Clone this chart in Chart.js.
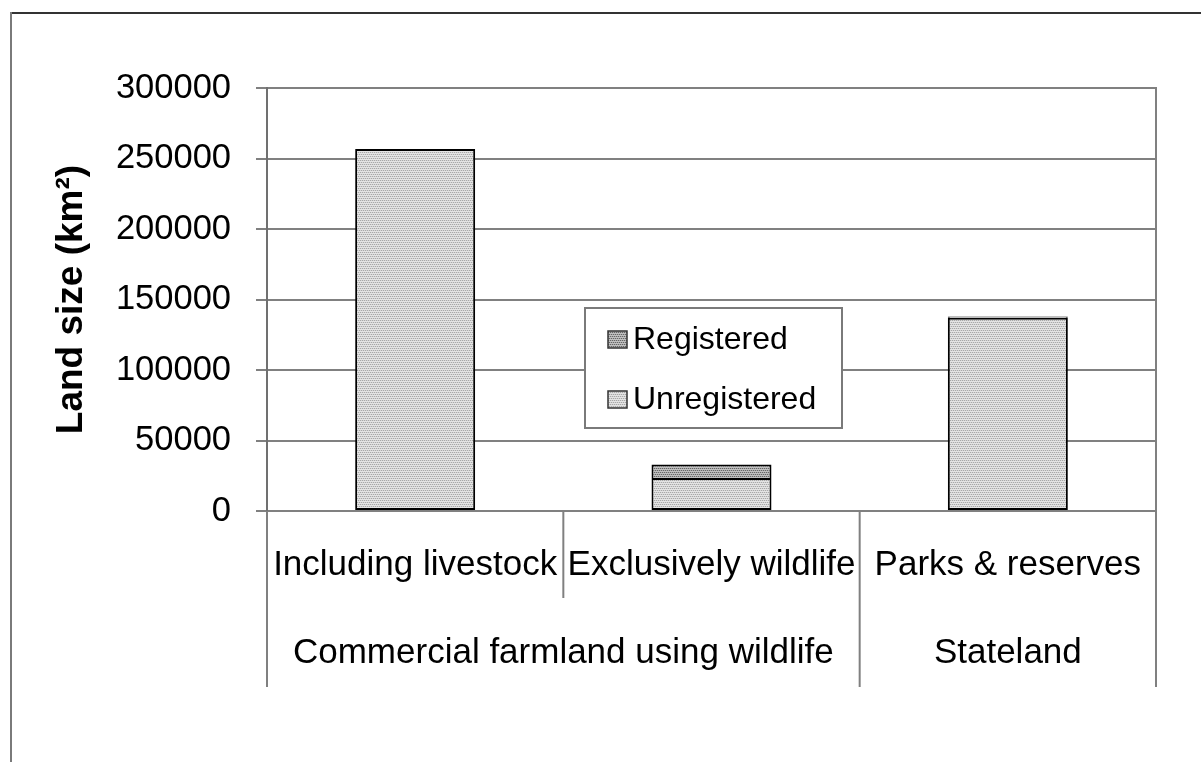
<!DOCTYPE html>
<html>
<head>
<meta charset="utf-8">
<script src="https://cdn.jsdelivr.net/npm/chart.js@4.4.1/dist/chart.umd.min.js"></script>
<style>
  html, body { margin: 0; padding: 0; background: #ffffff; }
  #wrap { width: 1201px; height: 762px; }
</style>
</head>
<body>
<div id="wrap"><canvas id="c" width="1201" height="762"></canvas></div>
<script>
// ---- data ----
const categories = ["Including livestock", "Exclusively wildlife", "Parks & reserves"];
const groupLabels = ["Commercial farmland using wildlife", "Stateland"];
const groupSpans = [2, 1];
const unregistered = [256700, 23400, 137000];
const registered = [0, 9600, 1000];
const seriesNames = ["Unregistered", "Registered"];
const yTicks = [0, 50000, 100000, 150000, 200000, 250000, 300000];

const FONT = "'Liberation Sans', Arial, Helvetica, sans-serif";

function makePattern(base, dark, light) {
  const c = document.createElement('canvas');
  c.width = 4; c.height = 4;
  const g = c.getContext('2d');
  g.fillStyle = base; g.fillRect(0, 0, 4, 4);
  g.fillStyle = dark;
  g.fillRect(0, 0, 1, 1); g.fillRect(2, 0, 1, 1);
  g.fillRect(1, 2, 1, 1); g.fillRect(3, 2, 1, 1);
  if (light) {
    g.fillStyle = light;
    g.fillRect(0, 1, 4, 1);
    g.fillRect(0, 3, 4, 1);
  }
  return g.createPattern(c, 'repeat');
}
const unregFill = makePattern('#d4d4d4', '#a8a8a8', '#e4e4e4');
const regFill = makePattern('#a8a8a8', '#666666', '#c0c0c0');

const decor = {
  id: 'decor',
  beforeDraw(chart) {
    const ctx = chart.ctx;
    ctx.save();
    ctx.lineWidth = 2;
    ctx.strokeStyle = '#333333';
    ctx.beginPath(); ctx.moveTo(10, 13); ctx.lineTo(1201, 13); ctx.stroke();
    ctx.strokeStyle = '#7a7a7a';
    ctx.beginPath(); ctx.moveTo(11, 12); ctx.lineTo(11, 762); ctx.stroke();
    ctx.restore();
  },
  afterDraw(chart) {
    const ctx = chart.ctx;
    const xs = chart.scales.x;
    const ca = chart.chartArea;
    const n = categories.length;
    const catW = (xs.right - xs.left) / n;
    const bounds = [];
    for (let i = 0; i <= n; i++) bounds.push(xs.left + i * catW);
    const groupEdges = [0];
    let acc = 0;
    groupSpans.forEach(s => { acc += s; groupEdges.push(acc); });

    ctx.save();
    ctx.strokeStyle = '#808080';
    ctx.lineWidth = 2;
    ctx.beginPath(); ctx.moveTo(xs.right, ca.top - 1); ctx.lineTo(xs.right, ca.bottom); ctx.stroke();
    bounds.forEach((bx, i) => {
      const long = groupEdges.includes(i);
      ctx.beginPath();
      ctx.moveTo(bx, ca.bottom);
      ctx.lineTo(bx, ca.bottom + (long ? 176 : 87));
      ctx.stroke();
    });

    ctx.fillStyle = '#000';
    ctx.textAlign = 'center';
    ctx.textBaseline = 'alphabetic';
    ctx.font = '35px ' + FONT;
    categories.forEach((lab, i) => {
      ctx.fillText(lab, xs.getPixelForValue(i), ca.bottom + 64);
    });
    groupLabels.forEach((lab, g) => {
      const x0 = bounds[groupEdges[g]], x1 = bounds[groupEdges[g + 1]];
      ctx.fillText(lab, (x0 + x1) / 2, ca.bottom + 152);
    });

    const lx = ca.left + 318, ly = ca.top + 220, lw = 257, lh = 120;
    ctx.fillStyle = '#ffffff';
    ctx.fillRect(lx, ly, lw, lh);
    ctx.strokeStyle = '#7a7a7a';
    ctx.lineWidth = 2;
    ctx.strokeRect(lx, ly, lw, lh);
    const items = [
      { label: seriesNames[1], fill: regFill, y: ly + 31 },
      { label: seriesNames[0], fill: unregFill, y: ly + 91 }
    ];
    ctx.font = '32px ' + FONT;
    ctx.textAlign = 'left';
    ctx.textBaseline = 'middle';
    items.forEach(it => {
      ctx.fillStyle = it.fill;
      ctx.fillRect(lx + 23, it.y - 8, 19, 17);
      ctx.strokeStyle = '#333';
      ctx.lineWidth = 1.5;
      ctx.strokeRect(lx + 23, it.y - 8, 19, 17);
      ctx.fillStyle = '#000';
      ctx.fillText(it.label, lx + 48, it.y + 1);
    });
    ctx.restore();
  }
};

new Chart(document.getElementById('c'), {
  type: 'bar',
  data: {
    labels: categories,
    datasets: [
      { label: seriesNames[0], data: unregistered, backgroundColor: unregFill,
        borderColor: '#000', borderWidth: 2, borderSkipped: false },
      { label: seriesNames[1], data: registered, backgroundColor: regFill,
        borderColor: '#000', borderWidth: 2, borderSkipped: 'start' }
    ]
  },
  options: {
    responsive: false,
    animation: false,
    devicePixelRatio: 1,
    layout: { padding: { left: 11, top: 88, right: 45, bottom: 0 } },
    datasets: { bar: { categoryPercentage: 1.0, barPercentage: 0.405 } },
    plugins: { legend: { display: false }, tooltip: { enabled: false } },
    scales: {
      x: {
        stacked: true,
        grid: { display: false },
        border: { display: true, color: '#808080', width: 2 },
        ticks: { display: false },
        afterFit(scale) { scale.height = 251; }
      },
      y: {
        stacked: true,
        min: 0, max: 300000,
        afterBuildTicks(scale) { scale.ticks = yTicks.map(v => ({ value: v })); },
        ticks: {
          padding: 25,
          color: '#000',
          font: { family: FONT, size: 34.5 },
          callback: (v) => String(v)
        },
        grid: { color: '#808080', lineWidth: 2, tickLength: 11, drawTicks: true },
        border: { display: true, color: '#707070', width: 2 },
        title: {
          display: true,
          text: 'Land size (km²)',
          color: '#000',
          font: { family: FONT, size: 37, weight: 'bold' },
          padding: { top: 39, bottom: 0 }
        },
        afterFit(scale) { scale.width = 256; }
      }
    }
  },
  plugins: [decor]
});
</script>
</body>
</html>
